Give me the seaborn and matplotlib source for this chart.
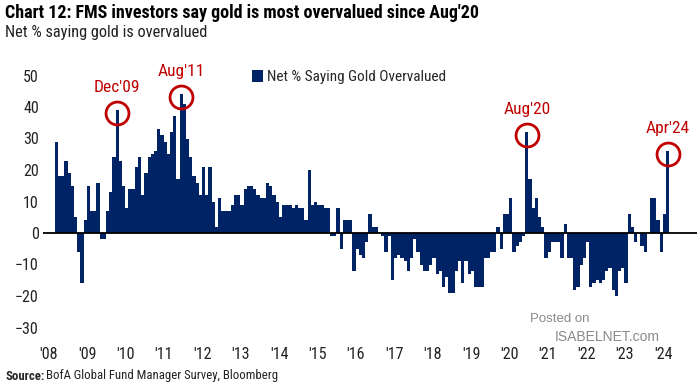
import numpy as np
import pandas as pd
import seaborn as sns
import matplotlib.pyplot as plt
from matplotlib.patches import Patch

# ---------------- data (net % saying gold is overvalued, monthly) ----------------
start_month = "2008-05-01"
v2008 = [29, 18, 18, 23, 19, 15, 5, -6]                       # May-Dec
v2009 = [-16, 4, 15, 7, 7, 16, -2, -2, 7, 13, 24, 39]
v2010 = [23, 15, 8, 14, 14, 21, 24, 12, 19, 24, 25, 26]
v2011 = [33, 31, 29, 25, 32, 37, 17, 44, 41, 30, 24, 18]
v2012 = [16, 12, 21, 12, 21, 10, 2, 11, 7, 7, 7, 9]
v2013 = [12, 12, 9, 14, 15, 15, 14, 12, 11, 11, 16, 15]
v2014 = [12, 10, 5, 9, 9, 9, 8, 9, 8, 8, 4, 20]
v2015 = [9, 10, 9, 9, 8, 8, -1, -1, 8, -5, 4, 4]
v2016 = [4, -12, -5, -7, -8, -3, 6, 2, 2, 0, -1, -6]
v2017 = [-1, -15, -8, -7, -8, -9, -12, -8, -2, -6, -10, -12]
v2018 = [-12, -10, -8, -13, -12, -17, -14, -19, -19, -12, -9, -16]
v2019 = [-9, -13, -12, -17, -17, -17, -8, -8, -6, -6, 2, -5]
v2020 = [6, 6, 11, -6, -4, -3, -1, 32, 17, 8, 11, 5]
v2021 = [2, -8, -6, -3, -3, -3, -8, 3, -8, -8, -18, -17]
v2022 = [-10, -8, -3, -17, -16, -15, -16, -15, -12, -11, -18, -20]
v2023 = [-12, -11, -16, 6, 2, -3, 0, -4, -6, 0, 11, 11]
v2024 = [4, -6, 6, 26]                                          # Jan-Apr

years = list(range(2008, 2025))
year_labels = ["'08", "'09", "'10", "'11", "'12", "'13", "'14", "'15", "'16",
               "'17", "'18", "'19", "'20", "'21", "'22", "'23", "'24"]
callouts = ["Dec'09", "Aug'11", "Aug'20", "Apr'24"]
callout_months = ["2009-12", "2011-08", "2020-08", "2024-04"]

values = (v2008 + v2009 + v2010 + v2011 + v2012 + v2013 + v2014 + v2015 + v2016
          + v2017 + v2018 + v2019 + v2020 + v2021 + v2022 + v2023 + v2024)
months = pd.date_range(start_month, periods=len(values), freq="MS")
df = pd.DataFrame({"month": months.strftime("%Y-%m"), "value": values})

# ---------------- style ----------------
NAVY = "#002366"
RED = "#C00000"
FONT = ["Roboto Condensed", "DejaVu Sans"]

sns.set_theme(style="white")
plt.rcParams["font.family"] = FONT

W, H = 700, 385
fig = plt.figure(figsize=(W / 100, H / 100), dpi=100)

def fx(px):
    return px / W

def fy(py):
    return 1 - py / H

ax_left, ax_right, ax_top, ax_bot = 43, 697, 69.2, 340.1
ax = fig.add_axes([fx(ax_left), fy(ax_bot), fx(ax_right - ax_left), (ax_bot - ax_top) / H])

sns.barplot(data=df, x="month", y="value", color=NAVY, saturation=1, width=1.0,
            edgecolor="none", linewidth=0, ax=ax)

ax.axhline(0, color="black", lw=1.3, zorder=3)
ax.set_xlim(-4.2, len(values) + 8.2)
ax.set_ylim(-34, 52)
ax.set_yticks(range(-30, 51, 10))
ax.tick_params(axis="y", length=0, pad=3, labelsize=11.5, labelcolor="#222222")
ax.set_ylabel("")
ax.set_xlabel("")

first = pd.Timestamp(start_month)
jan_pos = [(y - first.year) * 12 - (first.month - 1) + 1.6 for y in years]
ax.set_xticks(jan_pos)
ax.set_xticklabels(year_labels)
ax.tick_params(axis="x", length=0, pad=5, labelsize=11.5, labelcolor="#222222")
for s in ax.spines.values():
    s.set_visible(False)

# callouts
month_list = list(df["month"])
for lab, m in zip(callouts, callout_months):
    i = month_list.index(m)
    v = df["value"].iloc[i]
    ax.plot(i, v - 0.8, marker="o", ms=16.5, mfc="none", mec=RED, mew=2, clip_on=False, zorder=5)
    ax.annotate(lab, (i, v - 0.8), xytext=(0, 18), textcoords="offset points",
                ha="center", va="center", color=RED, fontsize=12.5, annotation_clip=False)

# legend
ax.legend(handles=[Patch(facecolor=NAVY, edgecolor="none", label="Net % Saying Gold Overvalued")],
          loc="center left", bbox_to_anchor=(fx(252), fy(77)), bbox_transform=fig.transFigure,
          frameon=False, fontsize=11, handlelength=0.7, handleheight=0.9,
          handletextpad=0.25, borderpad=0, borderaxespad=0)

# titles
fig.text(fx(5), fy(13), "Chart 12: FMS investors say gold is most overvalued since Aug'20",
         fontsize=13, fontweight="bold", va="center", ha="left", color="black")
fig.text(fx(5), fy(33), "Net % saying gold is overvalued",
         fontsize=11.8, va="center", ha="left", color="#222222")
t = fig.text(fx(5), fy(376), "Source:", fontsize=9.2, fontweight="bold", va="center", ha="left")
fig.canvas.draw()
bb = t.get_window_extent()
fig.text(bb.x1 / W + fx(2), fy(376), "BofA Global Fund Manager Survey, Bloomberg",
         fontsize=9.2, va="center", ha="left", color="#222222")

# watermark
fig.text(fx(530), fy(319), "Posted on", fontsize=9.5, color="#8a8a8a", va="center", ha="left",
         family=["Liberation Sans", "DejaVu Sans"])
fig.text(fx(555), fy(337), "ISABELNET.com", fontsize=10, color="#8a8a8a", va="center", ha="left",
         family=["Liberation Sans", "DejaVu Sans"])

fig.savefig("out.png", dpi=100)
